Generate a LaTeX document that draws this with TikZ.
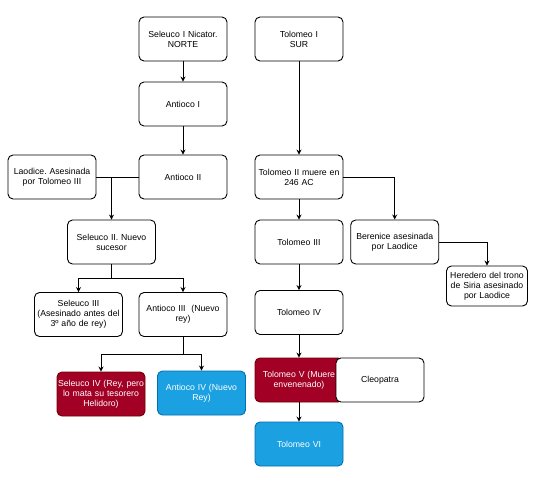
\documentclass[tikz,border=0pt]{standalone}
\usepackage{fontspec}
\setmainfont{Liberation Sans}
\usetikzlibrary{arrows.meta}
\definecolor{redbox}{HTML}{A20025}
\definecolor{redline}{HTML}{6F0000}
\definecolor{bluebox}{HTML}{1BA1E2}
\definecolor{blueline}{HTML}{006EAF}
\frenchspacing
\begin{document}
\begin{tikzpicture}[x=1pt,y=-1pt,
  box/.style={draw=black, fill=white, rounded corners=5pt, line width=0.9pt,
    align=center, font=\fontsize{8.7}{10.2}\selectfont, inner sep=0.5pt,
    minimum width=88pt, minimum height=44pt, text width=87pt},
  redb/.style={box, draw=redline, fill=redbox, text=white},
  blueb/.style={box, draw=blueline, fill=bluebox, text=white},
  conn/.style={draw=black, line width=0.9pt},
  arr/.style={conn, -{Stealth[length=5pt,width=5pt]}}]
\useasboundingbox[fill=white] (0,0) rectangle (536,480);
% left column
\node[box] (s1) at (183,39) {Seleuco I Nicator.\\NORTE};
\node[box] (a1) at (183,104) {Antioco I};
\node[box] (a2) at (183,177) {Antioco II};
\node[box] (lao) at (52,177) {Laodice. Asesinada\\por Tolomeo III};
\node[box] (s2) at (111.5,242) {Seleuco II. Nuevo\\sucesor};
\node[box] (s3) at (78.5,314.5) {Seleuco III\\(Asesinado antes del\\3º año de rey)};
\node[box] (a3) at (183,314.5) {Antioco III~ (Nuevo\\rey)};
\node[redb] (s4) at (101,394) {Seleuco IV (Rey, pero\\lo mata su tesorero\\Helidoro)};
\node[blueb] (a4) at (201.5,393) {Antioco IV (Nuevo\\Rey)};
% right column
\node[box] (t1) at (299,39) {Tolomeo I\\SUR};
\node[box] (t2) at (299,177) {Tolomeo II muere en\\246 AC};
\node[box] (t3) at (299,242) {Tolomeo III};
\node[box] (t4) at (299,312.5) {Tolomeo IV};
\node[redb] (t5) at (299,380) {Tolomeo V (Muere\\envenenado)};
\node[box] (cleo) at (380,380) {Cleopatra};
\node[blueb] (t6) at (299,444) {Tolomeo VI};
\node[box] (ber) at (394.7,242) {Berenice asesinada\\por Laodice};
\node[box, minimum width=80pt, minimum height=40pt, text width=80pt] (her) at (487,286) {Heredero del trono\\de Siria asesinado\\por Laodice};
% connectors
\draw[arr] (s1) -- (a1);
\draw[arr] (a1) -- (a2);
\draw[conn] (lao.east) -- (a2.west);
\coordinate (j1) at (s2.north |- lao.east);
\draw[arr] (j1) -- (s2.north);
\draw[arr] (s2.south) -- ++(0,14) -| (s3.north);
\draw[arr] (s2.south) -- ++(0,14) -| (a3.north);
\draw[arr] (a3.south) -- ++(0,17) -| (s4.north);
\draw[arr] (a3.south) -- ++(0,17) -| (a4.north);
\draw[arr] (t1) -- (t2);
\draw[arr] (t2) -- (t3);
\draw[arr] (t3) -- (t4);
\draw[arr] (t4) -- (t5);
\draw[arr] (t5) -- (t6);
\draw[arr] (t2.east) -| (ber.north);
\draw[arr] (ber.east) -| (her.north);
\end{tikzpicture}
\end{document}
